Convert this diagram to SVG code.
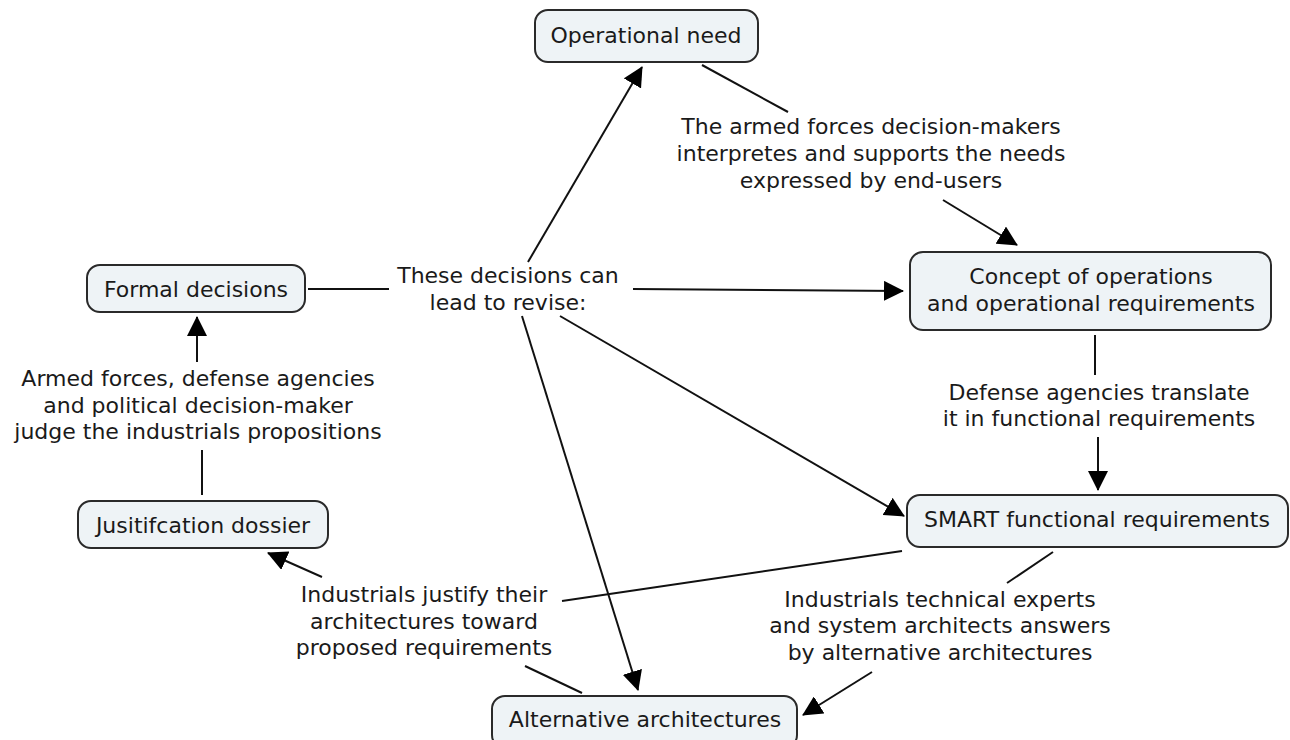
<svg xmlns="http://www.w3.org/2000/svg" width="1290" height="740" viewBox="0 0 1290 740">
<style>
.node rect{fill:#eef3f6;stroke:#2a2a2a;stroke-width:2}
text{font-family:"DejaVu Sans","Liberation Sans",sans-serif;font-size:22px;fill:#1a1a1a;text-anchor:middle}
.conn line{stroke:#111;stroke-width:2}
.arr{marker-end:url(#ah)}
</style>
<defs>
<marker id="ah" markerUnits="userSpaceOnUse" markerWidth="20" markerHeight="20" refX="19" refY="10" orient="auto">
<path d="M0,0 L20,10 L0,20 z" fill="#000"/>
</marker>
</defs>
<rect width="1290" height="740" fill="#fff"/>
<g id="connectors" class="conn">
<line class="arr" x1="528" y1="262" x2="642" y2="67"/>
<line x1="702" y1="65" x2="788" y2="112"/>
<line class="arr" x1="943" y1="200" x2="1017" y2="245"/>
<line x1="308" y1="289" x2="389" y2="289"/>
<line class="arr" x1="633" y1="289" x2="903" y2="291"/>
<line x1="1095" y1="335" x2="1095" y2="375"/>
<line class="arr" x1="1098" y1="437" x2="1098" y2="490"/>
<line class="arr" x1="560" y1="316" x2="904" y2="516"/>
<line class="arr" x1="522" y1="316" x2="638" y2="690"/>
<line x1="902" y1="551" x2="562" y2="601"/>
<line class="arr" x1="322" y1="577" x2="268" y2="553"/>
<line x1="525" y1="666" x2="582" y2="693"/>
<line x1="1053" y1="552" x2="1007" y2="583"/>
<line class="arr" x1="872" y1="672" x2="803" y2="715"/>
<line x1="202" y1="495" x2="202" y2="450"/>
<line class="arr" x1="197" y1="362" x2="197" y2="317"/>
</g>
<g id="operational-need" class="node"><rect x="535" y="10" width="223" height="52" rx="13"/><text x="646" y="43">Operational need</text></g>
<g id="concept" class="node"><rect x="910" y="252" width="361" height="78" rx="13"/><text x="1091" y="284">Concept of operations</text><text x="1091" y="311">and operational requirements</text></g>
<g id="formal-decisions" class="node"><rect x="87" y="265" width="218" height="47" rx="13"/><text x="196" y="297">Formal decisions</text></g>
<g id="smart" class="node"><rect x="907" y="495" width="381" height="52" rx="13"/><text x="1097" y="527">SMART functional requirements</text></g>
<g id="justification" class="node"><rect x="78" y="501" width="250" height="47" rx="13"/><text x="203" y="533">Jusitifcation dossier</text></g>
<g id="alternative" class="node"><rect x="492" y="696" width="305" height="52" rx="13"/><text x="645" y="727">Alternative architectures</text></g>
<g id="label-armed-forces-dm"><text x="871" y="134">The armed forces decision-makers</text><text x="871" y="161">interpretes and supports the needs</text><text x="871" y="188">expressed by end-users</text></g>
<g id="label-revise"><text x="508" y="283">These decisions can</text><text x="508" y="310">lead to revise:</text></g>
<g id="label-translate"><text x="1099" y="400">Defense agencies translate</text><text x="1099" y="426">it in functional requirements</text></g>
<g id="label-judge"><text x="198" y="386">Armed forces, defense agencies</text><text x="198" y="413">and political decision-maker</text><text x="198" y="439">judge the industrials propositions</text></g>
<g id="label-justify"><text x="424" y="602">Industrials justify their</text><text x="424" y="629">architectures toward</text><text x="424" y="655">proposed requirements</text></g>
<g id="label-answers"><text x="940" y="607">Industrials technical experts</text><text x="940" y="633">and system architects answers</text><text x="940" y="660">by alternative architectures</text></g>
</svg>
